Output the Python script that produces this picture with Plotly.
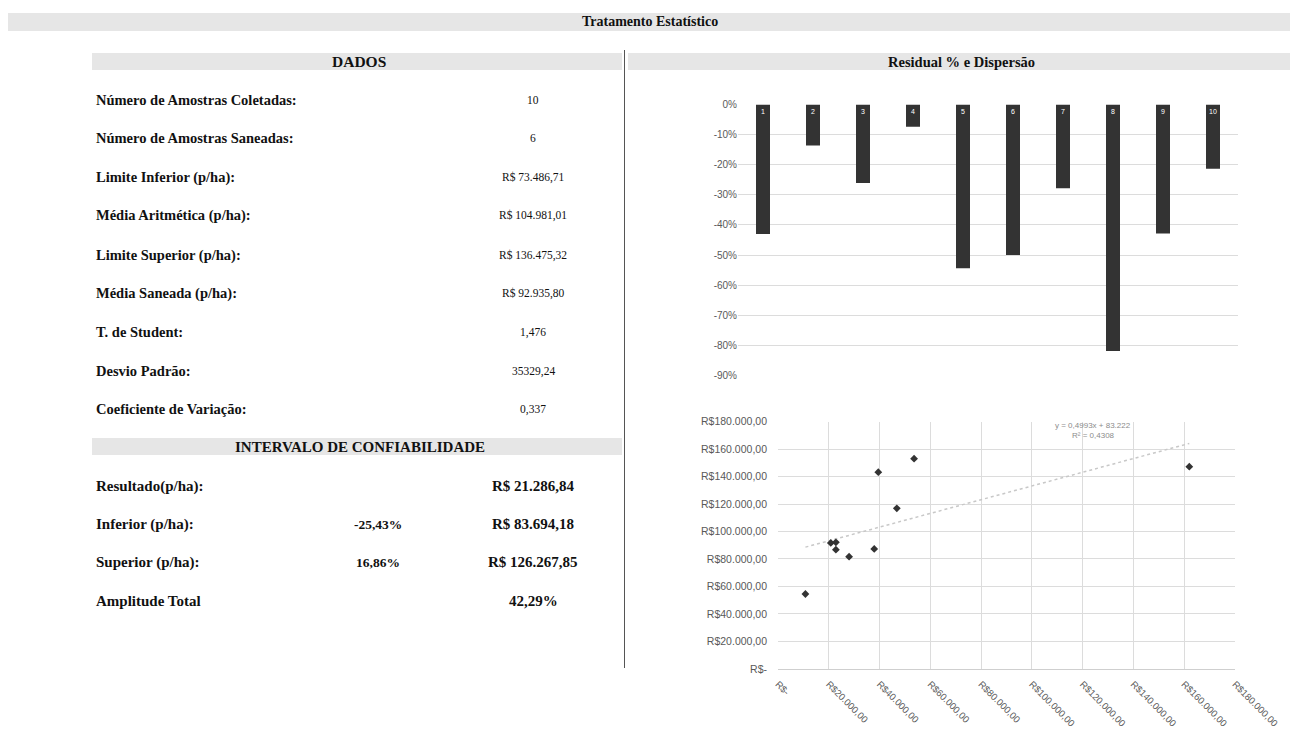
import numpy as np
import plotly.graph_objects as go

W, H = 1290, 736

# ---- data ----
dados_labels = [
    "Número de Amostras Coletadas:",
    "Número de Amostras Saneadas:",
    "Limite Inferior (p/ha):",
    "Média Aritmética (p/ha):",
    "Limite Superior (p/ha):",
    "Média Saneada (p/ha):",
    "T. de Student:",
    "Desvio Padrão:",
    "Coeficiente de Variação:",
]
dados_values = [
    "10", "6", "R$ 73.486,71", "R$ 104.981,01", "R$ 136.475,32",
    "R$ 92.935,80", "1,476", "35329,24", "0,337",
]

intervalo_labels = ["Resultado(p/ha):", "Inferior (p/ha):", "Superior (p/ha):", "Amplitude Total"]
intervalo_pct = ["", "-25,43%", "16,86%", ""]
intervalo_values = ["R$ 21.286,84", "R$ 83.694,18", "R$ 126.267,85", "42,29%"]

amostras = [1, 2, 3, 4, 5, 6, 7, 8, 9, 10]
residual_pct = [-43.0, -13.6, -26.1, -7.4, -54.4, -50.0, -27.8, -81.9, -42.8, -21.3]
residual_ticks = [0, -10, -20, -30, -40, -50, -60, -70, -80, -90]

disp_x = [10800, 20800, 22800, 22800, 28000, 37900, 39500, 46800, 53600, 162000]
disp_y = [54500, 91700, 92100, 86800, 81700, 87300, 143200, 116900, 153000, 147200]
moeda_ticks = [0, 20000, 40000, 60000, 80000, 100000, 120000, 140000, 160000, 180000]
moeda_labels = ["R$-", "R$20.000,00", "R$40.000,00", "R$60.000,00", "R$80.000,00",
                "R$100.000,00", "R$120.000,00", "R$140.000,00", "R$160.000,00", "R$180.000,00"]


def px(x):
    return x / W


def py(y):
    return 1 - y / H


def br(v, d):
    s = f"{v:,.{d}f}"
    return s.replace(",", "X").replace(".", ",").replace("X", ".")


SERIF = "Liberation Serif"
SANS = "Liberation Sans"
BAND = "#e6e6e6"

fig = go.Figure()

# ---- residual bars ----
fig.add_trace(go.Bar(
    x=amostras, y=residual_pct, width=0.28,
    marker=dict(color="#333333", line=dict(width=0)),
    text=[str(a) for a in amostras], textposition="inside",
    insidetextanchor="start", textangle=0,
    textfont=dict(family=SANS, size=7, color="white"),
    xaxis="x", yaxis="y", showlegend=False, hoverinfo="skip",
))

# ---- dispersion scatter + linear trend ----
coef = np.polyfit(disp_x, disp_y, 1)
xs = np.array([min(disp_x), max(disp_x)])
ys = np.polyval(coef, xs)
pred = np.polyval(coef, disp_x)
r2 = 1 - np.sum((np.array(disp_y) - pred) ** 2) / np.sum((np.array(disp_y) - np.mean(disp_y)) ** 2)

fig.add_trace(go.Scatter(
    x=xs, y=ys, mode="lines",
    line=dict(color="#c8c8c8", width=1.5, dash="dot"),
    xaxis="x2", yaxis="y2", showlegend=False, hoverinfo="skip",
))
fig.add_trace(go.Scatter(
    x=disp_x, y=disp_y, mode="markers",
    marker=dict(symbol="diamond", size=6, color="#333333"),
    xaxis="x2", yaxis="y2", showlegend=False, hoverinfo="skip",
))

shapes = []
ann = []


def band(x0, x1, y0, y1):
    shapes.append(dict(type="rect", xref="paper", yref="paper",
                       x0=px(x0), x1=px(x1), y0=py(y1), y1=py(y0),
                       fillcolor=BAND, line=dict(width=0), layer="below"))


def text(x, y, s, size=12, bold=True, anchor="left", color="#111111", family=SERIF):
    ann.append(dict(xref="paper", yref="paper", x=px(x), y=py(y),
                    text=f"<b>{s}</b>" if bold else s, showarrow=False,
                    xanchor=anchor, yanchor="middle",
                    font=dict(family=family, size=size, color=color)))


# header bands
band(8, 1290, 13, 31)
text(650, 22, "Tratamento Estatístico", size=14, anchor="center")
band(92, 622, 53, 70)
text(359, 61.5, "DADOS", size=15.5, anchor="center")
band(628, 1290, 53, 70)
text(961, 61.5, "Residual % e Dispersão", size=14.5, anchor="center")
shapes.append(dict(type="line", xref="paper", yref="paper",
                   x0=px(624.5), x1=px(624.5), y0=py(50), y1=py(668),
                   line=dict(color="#555555", width=1)))

# DADOS rows
row_y = [100, 138.5, 177, 216, 255, 294, 332, 371, 409]
for ly, lab, val in zip(row_y, dados_labels, dados_values):
    text(94, ly, lab, size=14.5)
    text(533, ly, val, size=11.5, bold=False, anchor="center")

# confidence interval section
band(92, 622, 438, 455)
text(360, 446.5, "INTERVALO DE CONFIABILIDADE", size=15, anchor="center")
int_y = [486, 524, 562, 601]
for ly, lab, pct, val in zip(int_y, intervalo_labels, intervalo_pct, intervalo_values):
    text(94, ly, lab, size=15)
    if pct:
        text(378, ly, pct, size=13.5, anchor="center")
    text(533, ly, val, size=15, anchor="center")

# trend equation
sign = "+" if coef[1] >= 0 else "-"
text(1093, 425, f"y = {br(coef[0], 4)}x {sign} {br(abs(coef[1]), 0)}", size=8,
     bold=False, anchor="center", color="#8c8c8c", family=SANS)
text(1093, 435, f"R² = {br(r2, 4)}", size=8, bold=False, anchor="center",
     color="#8c8c8c", family=SANS)

GRID = "#dcdcdc"
AX = "#595959"

fig.update_layout(
    width=W, height=H, autosize=False,
    margin=dict(l=0, r=0, t=0, b=0, pad=0, autoexpand=False),
    paper_bgcolor="white", plot_bgcolor="white",
    shapes=shapes, annotations=ann,
    xaxis=dict(domain=[px(738), px(1238)], range=[0.5, 10.5], showticklabels=False,
               showgrid=False, zeroline=False, showline=False, ticks="", automargin=False),
    yaxis=dict(domain=[py(375.5), py(104.5)], range=[-90, 0], tickvals=residual_ticks,
               ticktext=[f"{v}%" for v in residual_ticks], showgrid=True, gridcolor=GRID,
               gridwidth=1, zeroline=False, showline=False, ticks="", automargin=False,
               tickfont=dict(family=SANS, size=10, color=AX)),
    xaxis2=dict(domain=[px(778), px(1235)], range=[0, 180000], tickvals=moeda_ticks,
                ticktext=moeda_labels, tickangle=45, showgrid=True, gridcolor=GRID,
                zeroline=False, showline=True, linecolor="#cfcfcf", ticks="",
                ticklabelstandoff=5, automargin=False,
                tickfont=dict(family=SANS, size=9.5, color=AX), anchor="y2"),
    yaxis2=dict(domain=[py(668.9), py(421.6)], range=[0, 180000], tickvals=moeda_ticks,
                ticktext=moeda_labels, showgrid=True, gridcolor=GRID, zeroline=False,
                showline=False, ticks="", automargin=False, ticklabelstandoff=10,
                tickfont=dict(family=SANS, size=10.5, color=AX), anchor="x2"),
)

fig.write_html("out.html", config={"displayModeBar": False})
